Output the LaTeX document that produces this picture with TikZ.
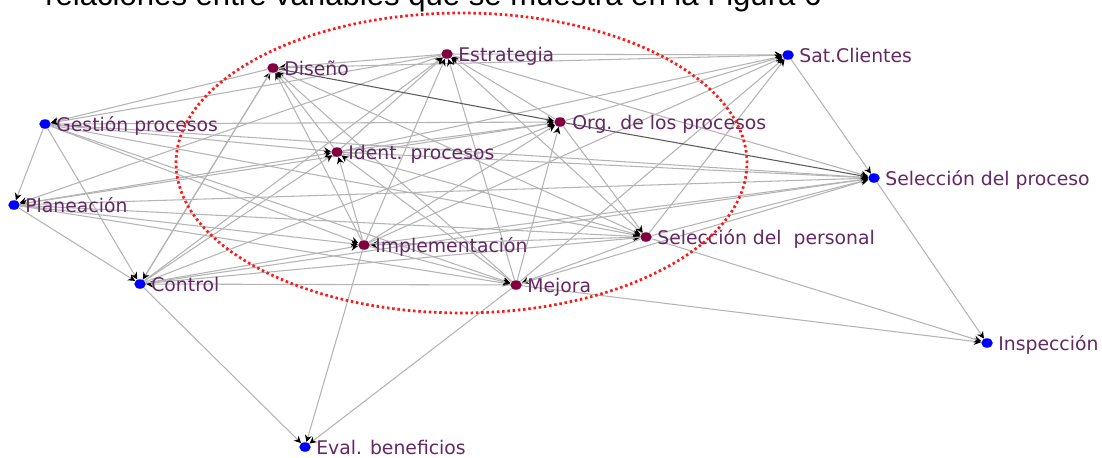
\documentclass[tikz,border=0pt]{standalone}
\usepackage{fontspec}
\setmainfont{DejaVu Sans}
\newfontfamily\arialfont{Liberation Sans}
\usetikzlibrary{arrows.meta,shapes.geometric}
\definecolor{nodeblue}{RGB}{0,0,255}
\definecolor{nodemaroon}{RGB}{128,0,64}
\definecolor{labelpurple}{RGB}{100,40,100}
\definecolor{edgegray}{RGB}{180,180,180}
\definecolor{darkgray}{RGB}{90,90,90}
\definecolor{dotred}{RGB}{255,25,25}
\pgfdeclarelayer{back}
\pgfdeclarelayer{edges}
\pgfsetlayers{back,edges,main}
\begin{document}
\begin{tikzpicture}[x=0.02cm,y=-0.02cm,
  vdot/.style={ellipse,inner sep=0pt,minimum width=0.23cm,minimum height=0.19cm},
  outernode/.style={vdot,fill=nodeblue},
  innernode/.style={vdot,fill=nodemaroon},
  lbl/.style={anchor=base west,inner sep=0pt,text=labelpurple,font=\fontsize{10.7}{12}\selectfont},
  edge/.style={draw=edgegray,line width=0.6pt,-{Stealth[length=1.4mm,width=1.4mm,color=black]}},
  darkedge/.style={edge,draw=darkgray}]
\useasboundingbox (0,0) rectangle (1102,457);
\clip (0,0) rectangle (1102,457);
\begin{pgfonlayer}{back}
\fill[white] (0,0) rectangle (1102,457);
\end{pgfonlayer}
% cut-off caption line
\node[anchor=base west,inner sep=0pt,font=\arialfont\fontsize{17.7}{20}\selectfont] (cap) at (45,5) {relaciones entre variables que se muestra en la Figura 6};
% nodes
\node[outernode] (G) at (45,124) {};
\node[outernode] (P) at (14,205) {};
\node[outernode] (C) at (140,284) {};
\node[innernode] (D) at (273,68) {};
\node[innernode] (E) at (447,54) {};
\node[outernode] (S) at (788,55) {};
\node[innernode] (O) at (560,122) {};
\node[innernode] (I) at (337,152) {};
\node[outernode] (SP) at (874,178) {};
\node[innernode] (Im) at (364,245) {};
\node[innernode] (SPe) at (646,237) {};
\node[innernode] (M) at (516,285) {};
\node[outernode] (In) at (987,343) {};
\node[outernode] (Ev) at (305,447) {};
% labels
\node[lbl] (Gl) at (56,131) {Gestión procesos};
\node[lbl] (Pl) at (25,212) {Planeación};
\node[lbl] (Cl) at (151,291) {Control};
\node[lbl] (Dl) at (284,75) {Diseño};
\node[lbl] (El) at (458,61) {Estrategia};
\node[lbl] (Sl) at (799,62) {Sat.Clientes};
\node[lbl] (Ol) at (572,129) {Org. de los procesos};
\node[lbl] (Il) at (348,159) {Ident. procesos};
\node[lbl] (SPl) at (885,185) {Selección del proceso};
\node[lbl] (Iml) at (375,252) {Implementación};
\node[lbl] (SPel) at (657,244) {Selección del~ personal};
\node[lbl] (Ml) at (527,292) {Mejora};
\node[lbl] (Inl) at (998,350) {Inspección};
\node[lbl] (Evl) at (316,454) {Eval. beneficios};
% edges
\begin{pgfonlayer}{edges}
\foreach \a/\b in {G/P, P/C, G/C, G/O, G/I, G/Im, G/SPe, G/M, G/SP,
  D/G, E/G, E/P, P/I, O/P, P/Im, P/M, P/SPe, P/SP,
  C/D, C/I, C/O, C/E, C/Im, C/SPe, M/C, C/SP, C/Ev,
  I/D, Im/D, M/D, D/SPe, E/D, D/S, D/C,
  I/E, Im/E, M/E, SPe/E, O/E, E/S, E/SP,
  I/O, Im/O, M/O, O/SPe, O/S,
  Im/I, M/I, I/SPe, I/SP, I/S,
  Im/M, SPe/Im, Im/SP, Im/Ev, Im/S,
  SPe/M, M/SP, M/In, M/Ev, M/S,
  SPe/SP, SPe/In, SPe/S,
  S/SP, SP/In}
  \draw[edge] (\a) -- (\b);
\draw[darkedge] (D) -- (O);
\draw[darkedge] (O) -- (SP);
\end{pgfonlayer}
% red dotted ellipse
\draw[dotred,line width=0.055cm,dash pattern=on 0.05cm off 0.055cm]
  (461.5,163) ellipse [x radius=5.71cm, y radius=3.0cm];
\end{tikzpicture}
\end{document}
